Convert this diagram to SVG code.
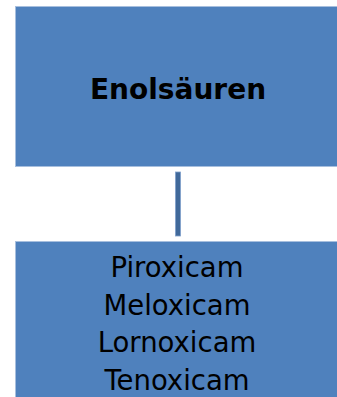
<svg xmlns="http://www.w3.org/2000/svg" width="337" height="397" viewBox="0 0 337 397">
<style>
.box{fill:#4F81BD;stroke:#A7BFDE;stroke-width:1}
.t{font-family:"DejaVu Sans",Verdana,sans-serif;fill:#000;text-anchor:middle}
.b{font-weight:bold;font-size:28px}
.r{font-size:27.5px}
.conn{fill:#41699A;stroke:#7FA0CB;stroke-width:0.8}
</style>
<rect width="337" height="397" fill="#fff"/>
<g id="connectors">
<rect class="conn" x="175.5" y="172" width="5" height="64"/>
</g>
<g id="node-enolsaeuren">
<rect class="box" x="15.5" y="6.5" width="330" height="160"/>
<text class="t b" x="178" y="98.5">Enolsäuren</text>
</g>
<g id="node-list">
<rect class="box" x="15.5" y="241.5" width="330" height="170"/>
<text class="t r" x="177" y="277">Piroxicam</text>
<text class="t r" x="177" y="314.5">Meloxicam</text>
<text class="t r" x="177" y="352">Lornoxicam</text>
<text class="t r" x="177" y="389.5">Tenoxicam</text>
</g>
</svg>
